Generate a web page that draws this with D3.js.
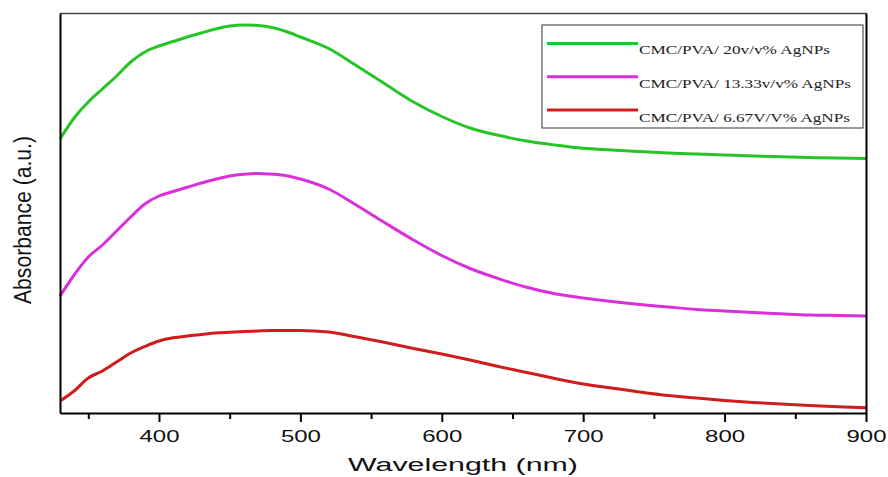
<!DOCTYPE html>
<html>
<head>
<meta charset="utf-8">
<script src="https://cdn.jsdelivr.net/npm/d3@7"></script>
<style>
  body { margin: 0; background: #fff; }
  svg { display: block; }
</style>
</head>
<body>
<script>
var margin = {left: 60, right: 22, top: 13, bottom: 64};
var width = 888 - margin.left - margin.right;
var height = 477 - margin.top - margin.bottom;

// wavelength samples (nm) and absorbance (a.u.)
var wavelength = [330, 340, 350, 360, 370, 380, 390, 400, 410, 420, 430, 440, 450, 460, 470, 480, 490, 500,
                  520, 540, 560, 580, 600, 620, 640, 660, 680, 700, 720, 740, 760, 780, 800, 820, 840, 860, 880, 900];

var ag20 = [2.74, 2.95, 3.11, 3.24, 3.37, 3.51, 3.61, 3.67, 3.715, 3.76, 3.80, 3.84, 3.87, 3.88, 3.875, 3.855, 3.815, 3.76,
            3.645, 3.47, 3.29, 3.11, 2.965, 2.85, 2.777, 2.72, 2.68, 2.647, 2.63, 2.615, 2.60, 2.59, 2.58, 2.57, 2.562, 2.555, 2.55, 2.545];

var ag1333 = [1.17, 1.38, 1.56, 1.68, 1.82, 1.96, 2.09, 2.17, 2.215, 2.257, 2.30, 2.337, 2.37, 2.388, 2.396, 2.388, 2.373, 2.34,
              2.24, 2.075, 1.90, 1.73, 1.575, 1.445, 1.344, 1.257, 1.192, 1.15, 1.115, 1.085, 1.06, 1.035, 1.02, 1.005, 0.992, 0.98, 0.975, 0.97];

var ag667 = [0.12, 0.22, 0.35, 0.42, 0.51, 0.60, 0.665, 0.72, 0.752, 0.77, 0.785, 0.80, 0.808, 0.815, 0.82, 0.824, 0.826, 0.826,
             0.81, 0.76, 0.705, 0.645, 0.59, 0.53, 0.465, 0.405, 0.345, 0.29, 0.25, 0.21, 0.175, 0.15, 0.125, 0.105, 0.09, 0.075, 0.063, 0.053];

var seriesNames = ["CMC/PVA/ 20v/v% AgNPs", "CMC/PVA/ 13.33v/v% AgNPs", "CMC/PVA/ 6.67V/V% AgNPs"];
var seriesValues = [ag20, ag1333, ag667];
var seriesColors = ["#27c427", "#d930d9", "#d01c1c"];

var majorTicks = [400, 500, 600, 700, 800, 900];
var minorTicks = [350, 450, 550, 650, 750, 850];

var xScale = d3.scaleLinear()
               .domain([330, 900])
               .range([0, width]);

var yScale = d3.scaleLinear()
               .domain([0, 4])
               .range([height, 0]);

var svg = d3.select("body")
            .append("svg")
            .attr("width", 888)
            .attr("height", 477);

var g = svg.append("g")
           .attr("transform", "translate(" + margin.left + "," + margin.top + ")");

//curves
var line = d3.line()
             .x(function(d){ return xScale(d[0]); })
             .y(function(d){ return yScale(d[1]); })
             .curve(d3.curveMonotoneX);

seriesValues.forEach(function(values, i){
    g.append("path")
     .datum(d3.zip(wavelength, values))
     .attr("fill", "none")
     .attr("stroke", seriesColors[i])
     .attr("stroke-width", 3)
     .attr("d", line);
});

//frame: top and right sides
g.append("g")
 .call(d3.axisTop(xScale).tickValues([]).tickSizeOuter(0))
 .select(".domain").attr("stroke", "#444").attr("stroke-width", 1.5);

g.append("g")
 .attr("transform", "translate(" + width + ",0)")
 .call(d3.axisRight(yScale).tickValues([]).tickSizeOuter(0))
 .select(".domain").attr("stroke-width", 2);

g.append("g")
 .call(d3.axisLeft(yScale).tickValues([]).tickSizeOuter(0))
 .select(".domain").attr("stroke-width", 2);

//minor ticks
g.append("g")
 .attr("transform", "translate(0," + height + ")")
 .call(d3.axisBottom(xScale).tickValues(minorTicks).tickSize(6).tickFormat("").tickSizeOuter(0))
 .call(function(a){ a.select(".domain").remove(); })
 .selectAll("line").attr("stroke-width", 2);

//major ticks and labels
var xAxis = g.append("g")
             .attr("transform", "translate(0," + height + ")")
             .call(d3.axisBottom(xScale).tickValues(majorTicks).tickSize(9).tickPadding(8).tickSizeOuter(0));

xAxis.select(".domain").attr("stroke-width", 2);
xAxis.selectAll("line").attr("stroke-width", 2);
xAxis.selectAll("text")
     .attr("font-family", "Liberation Sans, Arial, sans-serif")
     .attr("font-size", 16.5)
     .attr("fill", "#111")
     .attr("textLength", 40)
     .attr("lengthAdjust", "spacingAndGlyphs");

//axis titles
svg.append("text")
   .attr("x", 463)
   .attr("y", 471)
   .attr("text-anchor", "middle")
   .attr("font-family", "Liberation Sans, Arial, sans-serif")
   .attr("font-size", 18)
   .attr("fill", "#111")
   .attr("textLength", 230)
   .attr("lengthAdjust", "spacingAndGlyphs")
   .text("Wavelength (nm)");

svg.append("text")
   .attr("transform", "translate(31,220) scale(1.15,1) rotate(-90)")
   .attr("text-anchor", "middle")
   .attr("font-family", "Liberation Sans, Arial, sans-serif")
   .attr("font-size", 20)
   .attr("fill", "#111")
   .attr("textLength", 168)
   .attr("lengthAdjust", "spacingAndGlyphs")
   .text("Absorbance (a.u.)");

//legend
var legend = svg.append("g");

legend.append("rect")
      .attr("x", 542)
      .attr("y", 25)
      .attr("width", 321)
      .attr("height", 103)
      .attr("fill", "#fff")
      .attr("stroke", "#555")
      .attr("stroke-width", 1.2);

var textWidths = [191, 212, 211];

seriesNames.forEach(function(name, i){
    legend.append("line")
          .attr("x1", 547)
          .attr("x2", 638)
          .attr("y1", 43.5 + i * 33.3)
          .attr("y2", 43.5 + i * 33.3)
          .attr("stroke", seriesColors[i])
          .attr("stroke-width", 3);

    legend.append("text")
          .attr("x", 639)
          .attr("y", 54 + i * 33.8)
          .attr("font-family", "Liberation Serif, Times New Roman, serif")
          .attr("font-size", 13)
          .attr("fill", "#222")
          .attr("textLength", textWidths[i])
          .attr("lengthAdjust", "spacingAndGlyphs")
          .text(name);
});
</script>
</body>
</html>
